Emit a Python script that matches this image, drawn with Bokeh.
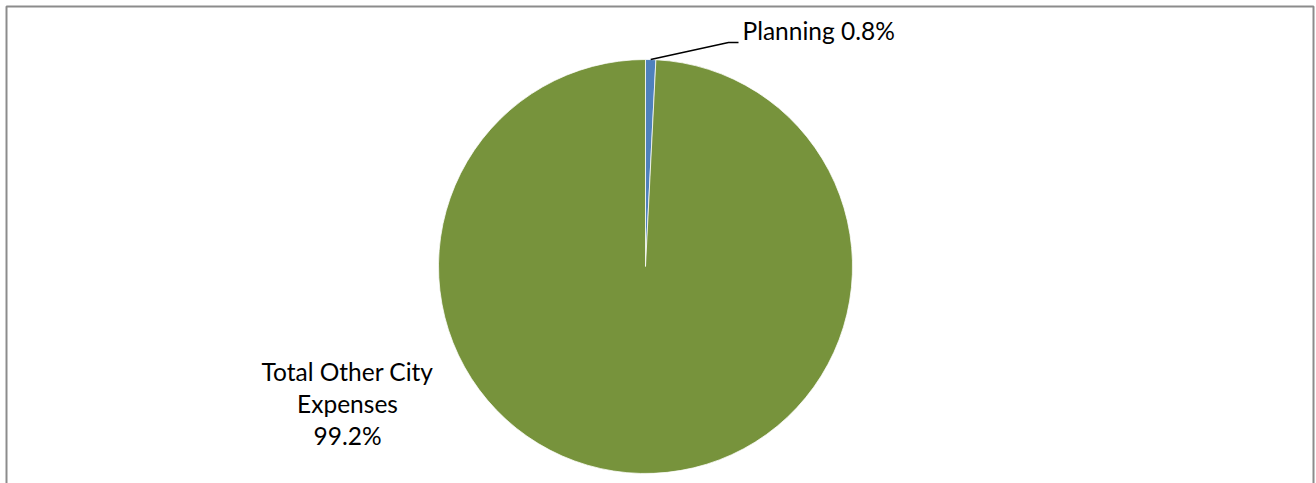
import math
from bokeh.plotting import figure
from bokeh.models import Range1d, ColumnDataSource
from bokeh.core.properties import value
from bokeh.embed import file_html
from bokeh.resources import INLINE

categories = ["Planning", "Total Other City Expenses"]
shares = [0.8, 99.2]
colors = ["#4F81BD", "#77933C"]

W, H = 1316, 483
p = figure(width=W, height=H, output_backend="svg", toolbar_location=None,
           x_range=Range1d(0, W), y_range=Range1d(0, H), min_border=0)
p.axis.visible = False
p.grid.visible = False
p.outline_line_color = None
p.background_fill_color = "white"

# chart frame
p.quad(left=[6], right=[1313], top=[H - 6], bottom=[-20], fill_color=None,
       line_color="#8C8C8C", line_width=2)

cx, cy, r = 645, H - 266, 207
total = sum(shares)
starts, ends = [], []
a = math.pi / 2
for s in shares:
    starts.append(a)
    a -= s / total * 2 * math.pi
    ends.append(a)
src = ColumnDataSource(dict(start=starts, end=ends, color=colors, cat=categories))
p.wedge(x=cx, y=cy, radius=r, start_angle="start", end_angle="end", direction="clock",
        fill_color="color", line_color="white", line_width=0.75, source=src)

font = value("Lato")
fs = "24.5px"
# Planning label with leader line
mid = (starts[0] + ends[0]) / 2
lx0 = cx + r * math.cos(mid)
ly0 = cy + r * math.sin(mid)
p.line(x=[lx0, 728, 738], y=[ly0, H - 42, H - 42], line_color="black", line_width=1.5)
p.text(x=[742], y=[H - 29.5], text=[f"{categories[0]} {shares[0]:.1f}%"], text_font=font,
       text_font_size=fs, text_align="left", text_baseline="middle", text_color="black")

# Other label
lines = ["Total Other City", "Expenses", f"{shares[1]:.1f}%"]
p.text(x=[347] * 3, y=[H - 371, H - 403, H - 435], text=lines, text_font=font,
       text_font_size=fs, text_align="center", text_baseline="middle", text_color="black")

open("out.html", "w").write(file_html(p, INLINE))
